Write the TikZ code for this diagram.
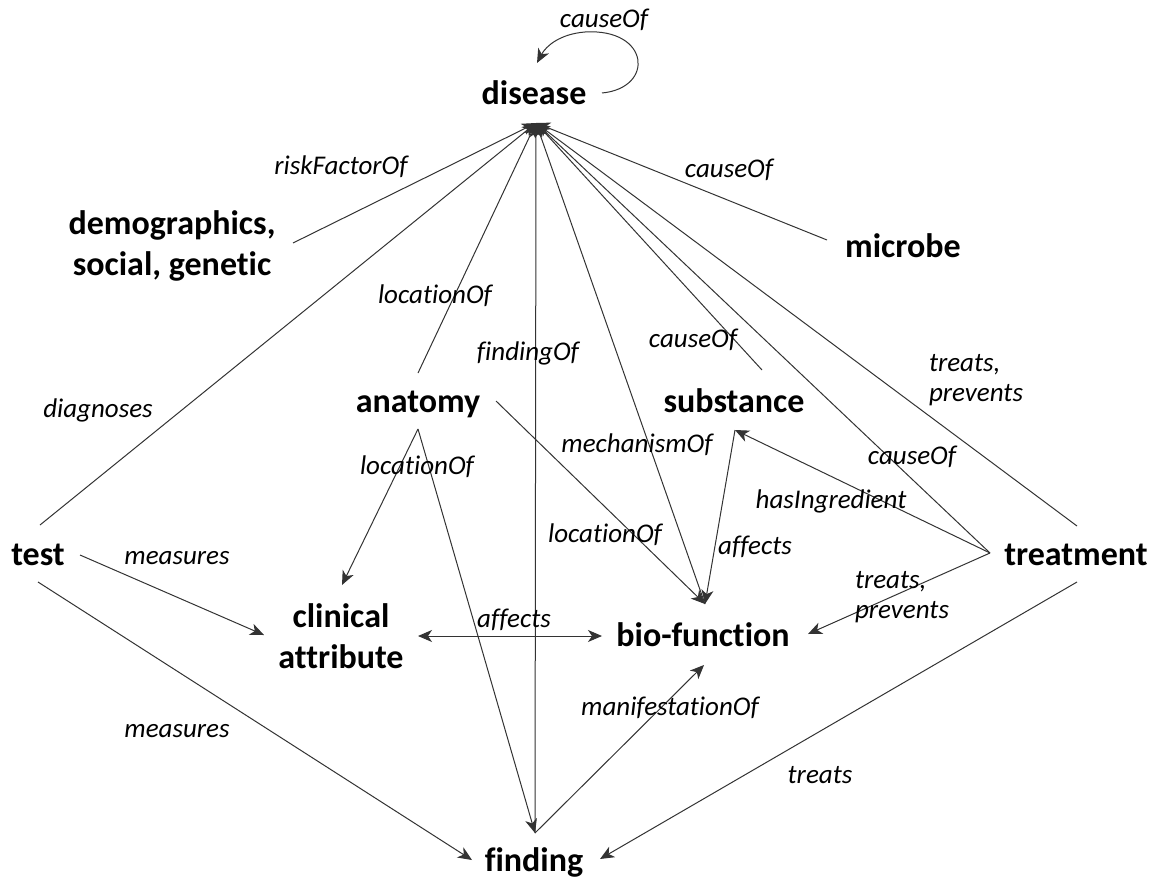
\documentclass[tikz,border=0pt]{standalone}
\usepackage{fontspec}
\setmainfont[Ligatures=NoCommon]{Carlito}
\usetikzlibrary{arrows.meta}
\begin{document}
\begin{tikzpicture}[x=1pt,y=-1pt,
  ent/.style={font=\fontsize{34}{41}\selectfont\bfseries, inner sep=0pt, align=center},
  lab/.style={font=\fontsize{27}{30}\selectfont\itshape, inner sep=0pt, align=left},
  rel/.style={draw=black!80, line width=1pt},
  arr/.style={rel, -{Stealth[length=14pt,width=12pt,inset=4pt]}},
  darr/.style={rel, {Stealth[length=14pt,width=12pt,inset=4pt]}-{Stealth[length=14pt,width=12pt,inset=4pt]}}]
\useasboundingbox (0,0) rectangle (1156,880);
% entities
\node[ent] (disease) at (534,93) {disease};
\node[ent] (demo) at (172,246) {demographics,\\social, genetic};
\node[ent] (microbe) at (903,246) {microbe};
\node[ent] (anatomy) at (418,404) {anatomy};
\node[ent] (substance) at (734,401) {substance};
\node[ent] (test) at (38,555) {test};
\node[ent] (treatment) at (1076,555) {treatment};
\node[ent] (clin) at (341,636) {clinical\\attribute};
\node[ent] (bio) at (703,635) {bio-function};
\node[ent] (finding) at (534,862) {finding};
% ports
\coordinate (dz) at (536,123);
\coordinate (loopS) at (602,93);
\coordinate (loopE) at (537,63);
\coordinate (demoP) at (293,243);
\coordinate (micP) at (827,240);
\coordinate (tU) at (40,525);
\coordinate (tR) at (80,555);
\coordinate (tD) at (38,582);
\coordinate (aU) at (418,373);
\coordinate (aD) at (418,429);
\coordinate (aR) at (496,401);
\coordinate (sU) at (762,370);
\coordinate (sD) at (735,430);
\coordinate (trL) at (990,553);
\coordinate (trU) at (1077,526);
\coordinate (trD) at (1077,582);
\coordinate (cT) at (342,585);
\coordinate (cL) at (264,635);
\coordinate (cR) at (418,636);
\coordinate (bT) at (705,604);
\coordinate (bL) at (602,636);
\coordinate (bR) at (808,634);
\coordinate (bB) at (704,665);
\coordinate (fT) at (535,833);
\coordinate (fL) at (472,860);
\coordinate (fR) at (600,859);
% self loop
\draw[arr] (loopS) .. controls (655,88) and (650,28) .. (585,32) .. controls (560,34) and (546,46) .. (loopE);
\node[lab] at (604,20) {causeOf};
% to disease
\draw[arr] (demoP) -- (dz);
\node[lab] at (341,167) {riskFactorOf};
\draw[arr] (micP) -- (dz);
\node[lab] at (729,170) {causeOf};
\draw[arr] (tU) -- (dz);
\node[lab] at (98,410) {diagnoses};
\draw[arr] (aU) -- (dz);
\node[lab] at (435,296) {locationOf};
\draw[arr] (fT) -- (dz);
\node[lab] at (528,353) {findingOf};
\draw[arr] (bT) -- (dz);
\node[lab] at (637,445) {mechanismOf};
\draw[arr] (sU) -- (dz);
\node[lab] at (693,340) {causeOf};
\draw[arr] (trL) -- (dz);
\node[lab] at (912,457) {causeOf};
\draw[arr] (trU) -- (dz);
\node[lab] at (976,380) {treats,\\prevents};
% test
\draw[arr] (tR) -- (cL);
\node[lab] at (177,558) {measures};
\draw[arr] (tD) -- (fL);
\node[lab] at (177,731) {measures};
% anatomy
\draw[arr] (aD) -- (cT);
\draw[arr] (aD) -- (fT);
\node[lab] at (417,467) {locationOf};
\draw[arr] (aR) -- (bT);
\node[lab] at (605,535) {locationOf};
% substance
\draw[arr] (sD) -- (bT);
\node[lab] at (755,547) {affects};
% treatment
\draw[arr] (trL) -- (sD);
\node[lab] at (831,501) {hasIngredient};
\draw[arr] (trL) -- (bR);
\node[lab] at (902,597) {treats,\\prevents};
\draw[arr] (trD) -- (fR);
\node[lab] at (820,775) {treats};
% clinical attribute <-> bio-function
\draw[darr] (cR) -- (bL);
\node[lab] at (514,620) {affects};
% finding -> bio-function
\draw[arr] (fT) -- (bB);
\node[lab] at (670,708) {manifestationOf};
\end{tikzpicture}
\end{document}
